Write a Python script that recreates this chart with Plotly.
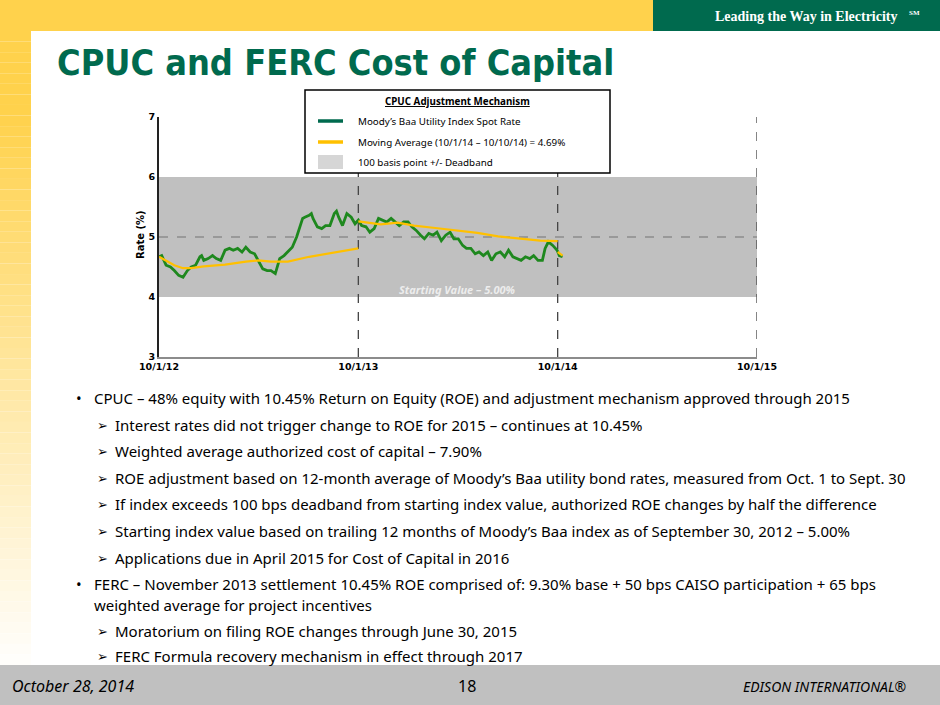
import plotly.graph_objects as go

W, H = 940, 705

# ---------------- data ----------------
spot_dates = [
    "2012-10-01", "2012-10-06", "2012-10-14", "2012-10-22", "2012-10-29", "2012-11-06", "2012-11-14",
    "2012-11-22", "2012-11-29", "2012-12-07", "2012-12-15", "2012-12-18", "2012-12-22", "2012-12-30",
    "2013-01-07", "2013-01-14", "2013-01-22", "2013-01-30", "2013-02-07", "2013-02-14", "2013-02-22",
    "2013-03-02", "2013-03-09", "2013-03-17", "2013-03-25", "2013-04-01", "2013-04-05", "2013-04-09",
    "2013-04-17", "2013-04-24", "2013-05-02", "2013-05-06", "2013-05-10", "2013-05-18", "2013-05-25",
    "2013-06-02", "2013-06-10", "2013-06-13", "2013-06-17", "2013-06-21", "2013-06-25", "2013-07-03",
    "2013-07-07", "2013-07-10", "2013-07-18", "2013-07-26", "2013-08-02", "2013-08-10", "2013-08-18",
    "2013-08-22", "2013-08-26", "2013-09-02", "2013-09-10", "2013-09-18", "2013-09-25", "2013-10-01",
    "2013-10-07", "2013-10-15", "2013-10-22", "2013-10-30", "2013-11-07", "2013-11-14", "2013-11-22",
    "2013-11-30", "2013-12-07", "2013-12-15", "2013-12-23", "2013-12-31", "2014-01-07", "2014-01-15",
    "2014-01-23", "2014-01-30", "2014-02-07", "2014-02-15", "2014-02-22", "2014-03-02", "2014-03-10",
    "2014-03-18", "2014-03-25", "2014-04-02", "2014-04-10", "2014-04-17", "2014-04-25", "2014-05-03",
    "2014-05-10", "2014-05-18", "2014-05-26", "2014-06-02", "2014-06-10", "2014-06-18", "2014-06-26",
    "2014-07-03", "2014-07-11", "2014-07-19", "2014-07-26", "2014-08-03", "2014-08-11", "2014-08-18",
    "2014-08-26", "2014-09-03", "2014-09-08", "2014-09-14", "2014-09-22", "2014-09-30", "2014-10-04",
    "2014-10-10",
]
spot_rates = [
    4.67, 4.69, 4.53, 4.50, 4.44, 4.36, 4.33,
    4.44, 4.50, 4.53, 4.67, 4.69, 4.61, 4.64,
    4.69, 4.64, 4.61, 4.78, 4.81, 4.78, 4.81,
    4.75, 4.83, 4.75, 4.72, 4.61, 4.53, 4.47,
    4.44, 4.44, 4.39, 4.50, 4.64, 4.69, 4.75,
    4.83, 5.00, 5.08, 5.19, 5.31, 5.33, 5.36,
    5.39, 5.31, 5.17, 5.14, 5.19, 5.19, 5.39,
    5.43, 5.33, 5.19, 5.39, 5.33, 5.22, 5.28,
    5.19, 5.17, 5.08, 5.14, 5.31, 5.28, 5.25,
    5.31, 5.25, 5.19, 5.25, 5.25, 5.17, 5.11,
    5.03, 4.97, 5.06, 5.03, 5.08, 4.94, 5.03,
    5.08, 4.97, 4.97, 4.86, 4.81, 4.81, 4.72,
    4.75, 4.69, 4.75, 4.61, 4.72, 4.75, 4.67,
    4.78, 4.67, 4.64, 4.61, 4.67, 4.64, 4.69,
    4.61, 4.61, 4.81, 4.92, 4.86, 4.78, 4.69,
    4.67,
]

# moving average: three separate averaging periods (None = break)
ma_dates = [
    "2012-10-01", "2012-10-14", "2012-10-29", "2012-11-14", "2012-11-29", "2012-12-22", "2013-01-30",
    "2013-03-09", "2013-04-01", "2013-04-24", "2013-05-25", "2013-07-03", "2013-08-10", "2013-10-01",
    None,
    "2013-10-01", "2013-10-19", "2013-11-11", "2013-12-12", "2014-01-11", "2014-02-19", "2014-03-29",
    "2014-05-07", "2014-06-14", "2014-07-23", "2014-08-30", "2014-10-01",
    None,
    "2014-10-01", "2014-10-10",
]
ma_rates = [
    4.67, 4.60, 4.53, 4.48, 4.48, 4.51, 4.54,
    4.59, 4.61, 4.59, 4.59, 4.67, 4.73, 4.81,
    None,
    5.26, 5.24, 5.21, 5.24, 5.19, 5.15, 5.11,
    5.07, 5.01, 4.97, 4.94, 4.93,
    None,
    4.75, 4.69,
]

x_tick_dates = ["2012-10-01", "2013-10-01", "2014-10-01", "2015-10-01"]
x_tick_labels = ["10/1/12", "10/1/13", "10/1/14", "10/1/15"]
y_ticks = [3, 4, 5, 6, 7]
deadband = [4.0, 6.0]
starting_value = 5.0
period_marks = ["2013-10-01", "2014-10-01", "2015-10-01"]

legend_title = "CPUC Adjustment Mechanism"
legend_labels = [
    "Moody’s Baa Utility Index Spot Rate",
    "Moving Average (10/1/14 – 10/10/14) = 4.69%",
    "100 basis point +/- Deadband",
]

bullets = [
    (1, "CPUC – 48% equity with 10.45% Return on Equity (ROE) and adjustment mechanism approved through 2015"),
    (2, "Interest rates did not trigger change to ROE for 2015 – continues at 10.45%"),
    (2, "Weighted average authorized cost of capital – 7.90%"),
    (2, "ROE adjustment based on 12-month average of Moody’s Baa utility bond rates, measured from Oct. 1 to Sept. 30"),
    (2, "If index exceeds 100 bps deadband from starting index value, authorized ROE changes by half the difference"),
    (2, "Starting index value based on trailing 12 months of Moody’s Baa index as of September 30, 2012 – 5.00%"),
    (2, "Applications due in April 2015 for Cost of Capital in 2016"),
    (1, "FERC – November 2013 settlement 10.45% ROE comprised of: 9.30% base + 50 bps CAISO participation + 65 bps"),
    (0, "weighted average for project incentives"),
    (2, "Moratorium on filing ROE changes through June 30, 2015"),
    (2, "FERC Formula recovery mechanism in effect through 2017"),
]
bullet_y = [398, 425, 451, 478, 504, 531, 558, 584, 605, 631, 656]

# ---------------- styling ----------------
GREEN = "#006A4E"
YELLOW = "#FFD24C"
LINE_GREEN = "#1E881E"
MA_YELLOW = "#FFC000"
BAND = "#C0C0C0"
BODY_FONT = "Noto Sans"


def px(x):
    return x / W


def py(y):
    return 1 - y / H


fig = go.Figure()

fig.add_trace(go.Scatter(
    x=spot_dates, y=spot_rates, mode="lines",
    line=dict(color=LINE_GREEN, width=2.8), showlegend=False,
))
fig.add_trace(go.Scatter(
    x=ma_dates, y=ma_rates, mode="lines", connectgaps=False,
    line=dict(color=MA_YELLOW, width=2.2), showlegend=False,
))

shapes = []
annotations = []

# --- slide decoration ---
n = 60
top, bot = 31, 665
for i in range(n):
    y0 = top + (bot - top) * i / n
    y1 = top + (bot - top) * (i + 1) / n
    t = max(0.0, (i / n - 0.12) / 0.88)
    g = int(210 + (255 - 210) * t)
    b = int(76 + (255 - 76) * t)
    shapes.append(dict(type="rect", xref="paper", yref="paper", x0=0, x1=px(31),
                       y0=py(y1), y1=py(y0), fillcolor=f"rgb(255,{g},{b})",
                       line=dict(width=0), layer="below"))
shapes.append(dict(type="rect", xref="paper", yref="paper", x0=0, x1=px(653), y0=py(31), y1=1,
                   fillcolor=YELLOW, line=dict(width=0), layer="below"))
shapes.append(dict(type="rect", xref="paper", yref="paper", x0=px(653), x1=1, y0=py(31), y1=1,
                   fillcolor=GREEN, line=dict(width=0), layer="below"))
shapes.append(dict(type="rect", xref="paper", yref="paper", x0=0, x1=1, y0=0, y1=py(665),
                   fillcolor="#C0C0C0", line=dict(width=0), layer="below"))

# --- chart shapes ---
shapes.append(dict(type="rect", xref="x", yref="y", x0=x_tick_dates[0], x1=x_tick_dates[-1],
                   y0=deadband[0], y1=deadband[1], fillcolor=BAND, line=dict(width=0), layer="below"))
shapes.append(dict(type="line", xref="x", yref="y", x0=x_tick_dates[0], x1=x_tick_dates[-1],
                   y0=starting_value, y1=starting_value,
                   line=dict(color="#8C8C8C", width=1.3, dash="dash"), layer="below"))
for d in period_marks:
    shapes.append(dict(type="line", xref="x", yref="y", x0=d, x1=d, y0=y_ticks[0], y1=y_ticks[-1],
                       line=dict(color="#444444", width=1.3, dash="dash"), layer="below"))

# --- legend box ---
shapes.append(dict(type="rect", xref="paper", yref="paper", x0=px(305), x1=px(610), y0=py(173), y1=py(90),
                   fillcolor="white", line=dict(color="black", width=1.5), layer="above"))
shapes.append(dict(type="line", xref="paper", yref="paper", x0=px(318), x1=px(343), y0=py(121), y1=py(121),
                   line=dict(color=GREEN, width=3.5), layer="above"))
shapes.append(dict(type="line", xref="paper", yref="paper", x0=px(318), x1=px(343), y0=py(142), y1=py(142),
                   line=dict(color=MA_YELLOW, width=3.5), layer="above"))
shapes.append(dict(type="rect", xref="paper", yref="paper", x0=px(318), x1=px(343), y0=py(169), y1=py(155),
                   fillcolor="#D6D6D6", line=dict(width=0), layer="above"))

annotations.append(dict(xref="paper", yref="paper", x=px(457), y=py(102), xanchor="center", yanchor="middle",
                        text=f"<b><u>{legend_title}</u></b>", showarrow=False,
                        font=dict(family=BODY_FONT, size=9.8, color="black")))
for lbl, yy in zip(legend_labels, [121, 142, 162]):
    annotations.append(dict(xref="paper", yref="paper", x=px(356), y=py(yy), xanchor="left", yanchor="middle",
                            text=lbl, showarrow=False,
                            font=dict(family=BODY_FONT, size=9.8, color="black")))

annotations.append(dict(xref="paper", yref="paper", x=px(457), y=py(289), xanchor="center", yanchor="middle",
                        text="<b><i>Starting Value – 5.00%</i></b>", showarrow=False,
                        font=dict(family=BODY_FONT, size=11, color="#EDEDED")))
annotations.append(dict(xref="paper", yref="paper", x=px(141), y=py(235), xanchor="center", yanchor="middle",
                        text="<b>Rate (%)</b>", textangle=-90, showarrow=False,
                        font=dict(family="DejaVu Sans", size=10, color="black")))

# --- slide text ---
annotations.append(dict(xref="paper", yref="paper", x=px(55), y=py(62), xanchor="left", yanchor="middle",
                        text="<b>CPUC and FERC Cost of Capital</b>", showarrow=False,
                        font=dict(family="DejaVu Sans Condensed, DejaVu Sans", size=35.8, color=GREEN)))
annotations.append(dict(xref="paper", yref="paper", x=px(900), y=py(16), xanchor="right", yanchor="middle",
                        text="<b>Leading the Way in Electricity</b>", showarrow=False,
                        font=dict(family="Liberation Serif", size=14, color="white")))
annotations.append(dict(xref="paper", yref="paper", x=px(907), y=py(13), xanchor="left", yanchor="middle",
                        text="<b>SM</b>", showarrow=False,
                        font=dict(family="Liberation Serif", size=7, color="white")))

for (lvl, txt), yy in zip(bullets, bullet_y):
    if lvl == 1:
        annotations.append(dict(xref="paper", yref="paper", x=px(74), y=py(yy), xanchor="left", yanchor="middle",
                                text="•", showarrow=False, font=dict(family=BODY_FONT, size=15, color="black")))
        tx = 92
    elif lvl == 2:
        annotations.append(dict(xref="paper", yref="paper", x=px(95), y=py(yy), xanchor="left", yanchor="middle",
                                text="➢", showarrow=False, font=dict(family="DejaVu Sans", size=13, color="black")))
        tx = 113
    else:
        tx = 92
    annotations.append(dict(xref="paper", yref="paper", x=px(tx), y=py(yy), xanchor="left", yanchor="middle",
                            text=txt, showarrow=False, font=dict(family=BODY_FONT, size=15, color="black")))

annotations.append(dict(xref="paper", yref="paper", x=px(10), y=py(686), xanchor="left", yanchor="middle",
                        text="<i>October 28, 2014</i>", showarrow=False,
                        font=dict(family=BODY_FONT, size=16, color="black")))
annotations.append(dict(xref="paper", yref="paper", x=px(467), y=py(686), xanchor="center", yanchor="middle",
                        text="18", showarrow=False,
                        font=dict(family=BODY_FONT, size=16, color="black")))
annotations.append(dict(xref="paper", yref="paper", x=px(908), y=py(686), xanchor="right", yanchor="middle",
                        text="<i>EDISON INTERNATIONAL®</i>", showarrow=False,
                        font=dict(family=BODY_FONT, size=14, color="black")))

fig.update_layout(
    width=W, height=H,
    margin=dict(l=0, r=0, t=0, b=0, autoexpand=False),
    paper_bgcolor="white", plot_bgcolor="rgba(0,0,0,0)",
    shapes=shapes, annotations=annotations,
    showlegend=False,
    xaxis=dict(
        domain=[px(159), px(757)], type="date",
        range=[x_tick_dates[0], x_tick_dates[-1]],
        tickmode="array", tickvals=x_tick_dates, ticktext=[f"<b>{t}</b>" for t in x_tick_labels],
        showgrid=False, zeroline=False, ticks="",
        showline=True, linecolor="#8C8C8C", linewidth=2,
        tickfont=dict(family="DejaVu Sans", size=9.5, color="black"),
        automargin=False,
    ),
    yaxis=dict(
        domain=[py(357), py(117)],
        range=[y_ticks[0], y_ticks[-1]],
        tickmode="array", tickvals=y_ticks, ticktext=[f"<b>{v}</b>" for v in y_ticks],
        showgrid=False, zeroline=False, ticks="",
        showline=True, linecolor="#222222", linewidth=2,
        tickfont=dict(family="DejaVu Sans", size=9.5, color="black"),
        automargin=False,
    ),
)

fig.write_html(
    "out.html",
    config={"displayModeBar": False},
    post_script="document.body.style.margin='0';document.body.style.overflow='hidden';",
)
